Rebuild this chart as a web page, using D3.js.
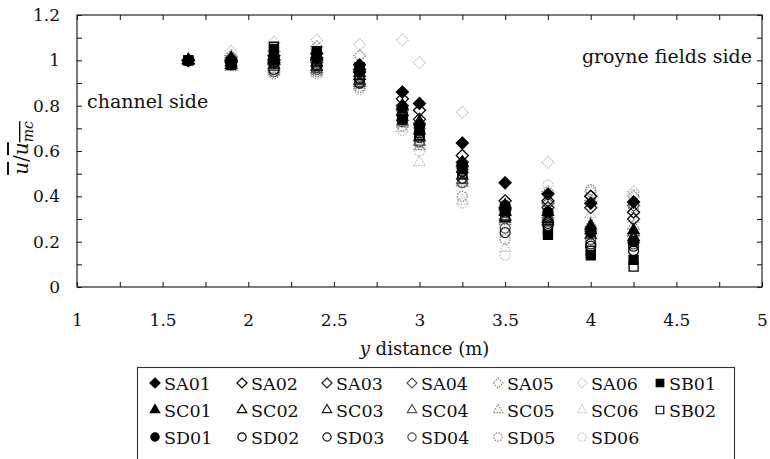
<!DOCTYPE html>
<html>
<head>
<meta charset="utf-8">
<script src="https://cdn.jsdelivr.net/npm/d3@7"></script>
<style>
  html, body { margin: 0; padding: 0; background: #fff; }
  svg { display: block; }
  svg text { font-family: "DejaVu Serif", "Liberation Serif", serif !important; fill: #111; }
</style>
</head>
<body>
<svg id="chart" width="770" height="459"></svg>
<script>
// ---- data ----
const yDistance = [1.65, 1.9, 2.15, 2.4, 2.65, 2.9, 3.0, 3.25, 3.5, 3.75, 4.0, 4.25];

const SA01 = [1.00, 1.00, 1.02, 1.03, 0.98, 0.86, 0.81, 0.635, 0.46, 0.41, 0.37, 0.375];
const SA02 = [1.00, 0.99, 1.00, 1.01, 0.96, 0.83, 0.78, 0.58, 0.38, 0.38, 0.40, 0.33];
const SA03 = [1.00, 1.00, 0.99, 1.00, 0.95, 0.80, 0.74, 0.55, 0.35, 0.35, 0.35, 0.30];
const SA04 = [1.00, 1.01, 0.98, 0.99, 0.93, 0.78, 0.72, 0.53, 0.34, 0.37, 0.40, 0.36];
const SA05 = [1.00, 1.02, 1.04, 1.06, 1.02, 0.76, 0.70, 0.52, 0.32, 0.42, 0.38, 0.40];
const SA06 = [1.00, 1.04, 1.08, 1.09, 1.07, 1.09, 0.99, 0.77, 0.30, 0.55, 0.42, 0.42];
const SB01 = [1.00, 0.98, 1.05, 1.04, 0.97, 0.74, 0.69, 0.52, 0.34, 0.23, 0.14, 0.12];
const SB02 = [1.00, 0.99, 1.06, 1.03, 0.95, 0.75, 0.67, 0.50, 0.31, 0.25, 0.16, 0.09];
const SC01 = [1.00, 1.01, 1.02, 1.02, 0.96, 0.80, 0.73, 0.55, 0.36, 0.33, 0.27, 0.25];
const SC02 = [1.00, 0.99, 1.00, 0.99, 0.93, 0.77, 0.69, 0.52, 0.33, 0.30, 0.25, 0.22];
const SC03 = [1.00, 0.98, 0.98, 0.97, 0.91, 0.75, 0.66, 0.49, 0.31, 0.29, 0.23, 0.21];
const SC04 = [1.00, 0.98, 0.97, 0.96, 0.90, 0.73, 0.64, 0.47, 0.30, 0.31, 0.26, 0.24];
const SC05 = [1.00, 0.97, 0.96, 0.95, 0.89, 0.72, 0.62, 0.46, 0.29, 0.32, 0.28, 0.27];
const SC06 = [1.00, 0.97, 0.95, 0.94, 0.88, 0.70, 0.55, 0.38, 0.17, 0.37, 0.32, 0.30];
const SD01 = [1.00, 1.00, 1.01, 1.01, 0.95, 0.79, 0.71, 0.54, 0.36, 0.33, 0.24, 0.20];
const SD02 = [1.00, 0.99, 0.99, 0.98, 0.92, 0.76, 0.68, 0.51, 0.33, 0.27, 0.18, 0.16];
const SD03 = [1.00, 0.98, 0.96, 0.97, 0.90, 0.74, 0.66, 0.48, 0.24, 0.28, 0.19, 0.18];
const SD04 = [1.00, 0.99, 0.95, 0.96, 0.90, 0.73, 0.64, 0.46, 0.26, 0.30, 0.21, 0.19];
const SD05 = [1.00, 1.00, 0.94, 0.95, 0.88, 0.71, 0.63, 0.40, 0.21, 0.33, 0.43, 0.35];
const SD06 = [1.00, 1.01, 0.97, 0.94, 0.87, 0.69, 0.60, 0.37, 0.14, 0.45, 0.42, 0.41];

const xTicks = [1, 1.5, 2, 2.5, 3, 3.5, 4, 4.5, 5];
const yTicks = [0, 0.2, 0.4, 0.6, 0.8, 1, 1.2];

const legendRows = [
  ["SA01", "SA02", "SA03", "SA04", "SA05", "SA06", "SB01"],
  ["SC01", "SC02", "SC03", "SC04", "SC05", "SC06", "SB02"],
  ["SD01", "SD02", "SD03", "SD04", "SD05", "SD06"]
];

const seriesValues = {SA01, SA02, SA03, SA04, SA05, SA06, SB01, SB02,
  SC01, SC02, SC03, SC04, SC05, SC06, SD01, SD02, SD03, SD04, SD05, SD06};

// ---- styling ----
const FONT = "DejaVu Serif, Liberation Serif, serif";
const shadeByLevel = {"01": "#000", "02": "#000", "03": "#1a1a1a", "04": "#555", "05": "#8a8a8a", "06": "#c4c4c4"};
const diamond = {
  draw(ctx, size) {
    const r = Math.sqrt(size / 2);
    ctx.moveTo(0, -r); ctx.lineTo(r, 0); ctx.lineTo(0, r); ctx.lineTo(-r, 0); ctx.closePath();
  }
};
function shapeFor(name) {
  const fam = name.slice(0, 2);
  if (fam === "SA") return {type: diamond, size: 72};
  if (fam === "SB") return {type: d3.symbolSquare, size: 81};
  if (fam === "SC") return {type: d3.symbolTriangle, size: 55};
  return {type: d3.symbolCircle, size: 78};
}
function styleFor(name) {
  const lvl = name.slice(2);
  const c = (lvl === "01" || name.slice(0, 2) === "SB") ? "#000" : shadeByLevel[lvl];
  const filled = lvl === "01";
  return {fill: filled ? c : "none", stroke: c, dash: (lvl === "05" || lvl === "06") ? "1.6,1.2" : null};
}

// ---- layout ----
const svg = d3.select("#chart");
const m = {left: 77, right: 762, top: 15, bottom: 287};
const x = d3.scaleLinear().domain([1, 5]).range([m.left, m.right]);
const y = d3.scaleLinear().domain([0, 1.2]).range([m.bottom, m.top]);

// frame
svg.append("rect")
  .attr("x", m.left).attr("y", m.top)
  .attr("width", m.right - m.left).attr("height", m.bottom - m.top)
  .attr("fill", "none").attr("stroke", "#222").attr("stroke-width", 1.2);

// ticks (inward) using d3 axes
const minorX = d3.range(1, 5.001, 0.25);
const minorY = d3.range(0, 1.2001, 0.1);
function styleAxis(g) {
  g.select(".domain").remove();
  g.selectAll(".tick line").attr("stroke", "#222").attr("stroke-width", 1.1);
}
svg.append("g").attr("transform", `translate(0,${m.bottom})`)
  .call(d3.axisBottom(x).tickValues(minorX).tickSize(-5).tickFormat("")).call(styleAxis);
svg.append("g").attr("transform", `translate(0,${m.top})`)
  .call(d3.axisTop(x).tickValues(minorX).tickSize(-5).tickFormat("")).call(styleAxis);
svg.append("g").attr("transform", `translate(${m.left},0)`)
  .call(d3.axisLeft(y).tickValues(minorY).tickSize(-5).tickFormat("")).call(styleAxis);
svg.append("g").attr("transform", `translate(${m.right},0)`)
  .call(d3.axisRight(y).tickValues(minorY).tickSize(-5).tickFormat("")).call(styleAxis);

// tick labels
function styleLabels(g) {
  g.attr("font-family", FONT).attr("font-size", 17);
  g.select(".domain").remove();
  g.selectAll("text").attr("font-family", FONT).attr("font-size", 17).attr("fill", "#111");
}
svg.append("g").attr("transform", `translate(0,${m.bottom})`)
  .call(d3.axisBottom(x).tickValues(xTicks).tickSize(0).tickPadding(27).tickFormat(d3.format("")))
  .call(styleLabels);
svg.append("g").attr("transform", `translate(${m.left},0)`)
  .call(d3.axisLeft(y).tickValues(yTicks).tickSize(0).tickPadding(17).tickFormat(d3.format("")))
  .call(styleLabels);

// axis titles
const xt = svg.append("text").attr("x", (x(1) + x(5)) / 2 + 5).attr("y", 355)
  .attr("text-anchor", "middle").attr("font-size", 18).attr("font-family", FONT);
xt.append("tspan").attr("font-style", "italic").text("y");
xt.append("tspan").text(" distance (m)");

const yt = svg.append("text").attr("transform", "translate(28,148) rotate(-90)")
  .attr("text-anchor", "middle").attr("font-size", 20).attr("font-family", FONT).attr("font-style", "italic");
yt.append("tspan").style("text-decoration", "overline").text("u");
yt.append("tspan").attr("font-style", "normal").text("/");
yt.append("tspan").style("text-decoration", "overline").text("u");
yt.append("tspan").attr("font-size", 14).attr("dy", 5).style("text-decoration", "overline").text("mc");

// annotations
svg.append("text").attr("x", 87).attr("y", 108).attr("font-size", 19).attr("font-family", FONT)
  .text("channel side");
svg.append("text").attr("x", 752).attr("y", 63).attr("text-anchor", "end").attr("font-size", 19)
  .attr("font-family", FONT).text("groyne fields side");

// points: draw lighter series first
const order = ["06", "05", "04", "03", "02", "01"];
const names = Object.keys(seriesValues).sort((a, b) => order.indexOf(a.slice(2)) - order.indexOf(b.slice(2)));
const pts = svg.append("g");
names.forEach(name => {
  const sh = shapeFor(name), st = styleFor(name);
  const sym = d3.symbol().type(sh.type).size(sh.size);
  pts.append("g").attr("class", "series-" + name)
    .selectAll("path").data(seriesValues[name].map((v, i) => ({x: yDistance[i], v})))
    .join("path")
    .attr("transform", d => `translate(${x(d.x)},${y(d.v)})`)
    .attr("d", sym)
    .attr("fill", st.fill).attr("stroke", st.stroke).attr("stroke-width", 1.3)
    .attr("stroke-dasharray", st.dash);
});

// legend
const lg = svg.append("g");
lg.append("rect").attr("x", 137.5).attr("y", 367.5).attr("width", 597).attr("height", 110)
  .attr("fill", "#fff").attr("stroke", "#333").attr("stroke-width", 1.1);
const colX = [155, 242, 327, 412, 498, 582, 660];
const rowY = [383, 410, 437];
legendRows.forEach((row, ri) => {
  row.forEach((name, ci) => {
    const sh = shapeFor(name), st = styleFor(name);
    lg.append("path")
      .attr("transform", `translate(${colX[ci]},${rowY[ri]})`)
      .attr("d", d3.symbol().type(sh.type).size(sh.size * 0.7))
      .attr("fill", st.fill).attr("stroke", st.stroke).attr("stroke-width", 1.2)
      .attr("stroke-dasharray", st.dash);
    lg.append("text").attr("x", colX[ci] + 9).attr("y", rowY[ri] + 7)
      .attr("font-size", 17.5).attr("font-family", FONT).text(name);
  });
});
</script>
</body>
</html>
